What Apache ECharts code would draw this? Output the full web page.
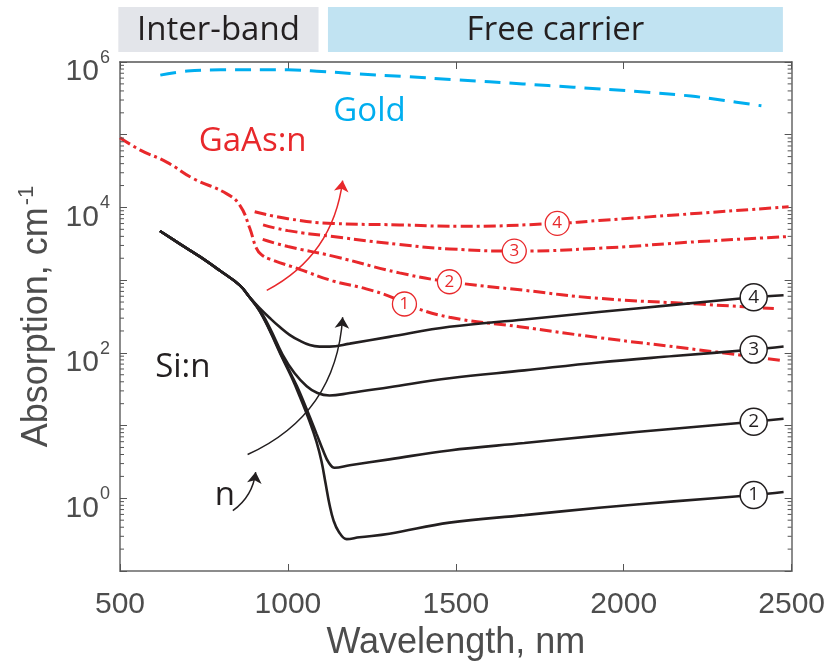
<!DOCTYPE html>
<html>
<head>
<meta charset="utf-8">
<script src="https://cdn.jsdelivr.net/npm/echarts@6/dist/echarts.min.js"></script>
<style>
  html, body { margin: 0; padding: 0; background: #fff; }
  #chart { width: 828px; height: 666px; }
</style>
</head>
<body>
<div id="chart"></div>
<script>
// Wavelength (nm) and absorption coefficient (cm^-1) for each curve

// Gold film
const goldX = [620, 700, 800, 1000, 1100, 1200, 1350, 1500, 1700, 1850, 2050, 2200, 2300, 2410];
const goldY = [6.6e5, 7.5e5, 7.8e5, 7.8e5, 7.4e5, 6.9e5, 6.3e5, 5.7e5, 5.0e5, 4.5e5, 3.9e5, 3.4e5, 2.95e5, 2.5e5];

// n-doped GaAs, doping levels 1..4 (level 1 carries the inter-band edge)
const gaas1X = [500, 559, 639, 718, 817, 857, 886, 906, 921, 946, 1035, 1133, 1233, 1312, 1347, 1481, 1689, 1926, 2224, 2476];
const gaas1Y = [9.1e4, 6.2e4, 4.2e4, 2.5e4, 1.55e4, 1.07e4, 5250, 2750, 2240, 1950, 1410, 977, 759, 575, 470, 309, 229, 162, 110, 78];
const gaas2X = [925, 1000, 1134, 1332, 1481, 1704, 1926, 2224, 2447];
const gaas2Y = [3630, 2900, 2140, 1260, 950, 724, 562, 468, 407];
const gaas3X = [926, 1000, 1134, 1332, 1481, 1674, 1926, 2224, 2491];
const gaas3Y = [5750, 4800, 3980, 3090, 2690, 2510, 2750, 3390, 3980];
const gaas4X = [901, 1000, 1134, 1332, 1510, 1802, 1926, 2224, 2491];
const gaas4Y = [8710, 7000, 6030, 5750, 5500, 6030, 6610, 8320, 10200];

// n-doped Si, doping levels 1..4
const si1X = [619, 678, 738, 797, 857, 886, 916, 946, 984, 1011, 1035, 1065, 1085, 1100, 1112, 1124, 1136, 1151, 1175, 1213, 1302, 1481, 1704, 1926, 2149, 2387, 2476];
const si1Y = [4740, 3155, 2101, 1355, 848, 582, 376, 201, 83.6, 46.1, 25.4, 11.3, 6.03, 3.23, 1.62, 0.814, 0.493, 0.350, 0.274, 0.291, 0.325, 0.463, 0.586, 0.741, 0.908, 1.11, 1.22];
const si2X = [619, 678, 738, 797, 857, 886, 916, 946, 984, 1011, 1035, 1065, 1085, 1106, 1121, 1139, 1184, 1302, 1481, 1704, 1926, 2149, 2387, 2476];
const si2Y = [4740, 3155, 2101, 1355, 848, 582, 376, 207, 86.3, 49.1, 28.8, 13.2, 7.75, 4.41, 3.13, 2.63, 2.85, 3.43, 4.55, 5.75, 7.28, 9.06, 11.3, 12.4];
const si3X = [619, 678, 738, 797, 857, 886, 916, 946, 984, 1020, 1056, 1088, 1124, 1184, 1302, 1481, 1704, 1926, 2149, 2387, 2476];
const si3Y = [4740, 3155, 2101, 1355, 848, 582, 388, 221, 94.8, 52.3, 34.8, 28.0, 25.9, 28.0, 33.7, 44.7, 57.4, 73.8, 90.4, 111, 122];
const si4X = [619, 678, 738, 797, 857, 886, 916, 946, 975, 1005, 1035, 1065, 1094, 1124, 1184, 1302, 1481, 1704, 1926, 2149, 2387, 2476];
const si4Y = [4740, 3155, 2101, 1355, 848, 582, 413, 302, 228, 177, 147, 128, 122, 122, 134, 166, 228, 288, 364, 457, 582, 620];

// Where each numbered marker sits along its curve
const gaasMarkX = [1347, 1481, 1674, 1802];
const siMarkX = [2387, 2387, 2387, 2387];

// Spectral regions shown above the plot
const bandNames = ['Inter-band', 'Free carrier'];
const bandStart = [495, 1118];
const bandEnd = [1090, 2470];
const bandColors = ['#e3e5ea', '#c1e3f2'];

// Text notes (wavelength, absorption)
const noteNames = ['Gold', 'GaAs:n', 'Si:n', 'n'];
const noteX = [1243, 895, 687, 812];
const noteY = [2.09e5, 8.1e4, 62, 1.1];

// Arrows for increasing doping
const arrowFrom = [[937, 724], [880, 4.0], [836, 0.676]];
const arrowTo = [[1163, 23400], [1163, 309], [904, 2.29]];
const arrowBend = [-0.26, -0.3, -0.22];

// Axis ticks
const xTicks = [500, 1000, 1500, 2000, 2500];
const yDecades = [0.1, 1, 10, 100, 1e3, 1e4, 1e5];
const yMinorSteps = [2, 3, 4, 5, 6, 7, 8, 9];

const BLACK = '#231f20';
const RED = '#e8282b';
const CYAN = '#00aeef';
const AXIS_GREY = '#4d4d4d';
const AXIS_FONT = '"Liberation Sans", Arial, sans-serif';
const NOTE_FONT = '"Open Sans", "Noto Sans", sans-serif';

function pairs(xs, ys) { return xs.map((x, i) => [x, ys[i]]); }
function at(xs, ys, x) { return [x, ys[xs.indexOf(x)]]; }

function curve(xs, ys, color, type, width, smooth) {
  return {
    type: 'line', xAxisIndex: 0, yAxisIndex: 0,
    data: pairs(xs, ys),
    showSymbol: false, symbol: 'none',
    smooth: smooth,
    lineStyle: { color: color, width: width, type: type, cap: 'butt', opacity: 1 },
    silent: true, z: 3
  };
}

const minorTickValues = [];
yDecades.forEach(d => yMinorSteps.forEach(m => minorTickValues.push(+(d * m).toPrecision(3))));

const gaasSets = [[gaas1X, gaas1Y], [gaas2X, gaas2Y], [gaas3X, gaas3Y], [gaas4X, gaas4Y]];
const siSets = [[si1X, si1Y], [si2X, si2Y], [si3X, si3Y], [si4X, si4Y]];
const gaasMarks = gaasSets.map((s, i) => ({ name: String(i + 1), value: at(s[0], s[1], gaasMarkX[i]) }));
const siMarks = siSets.map((s, i) => ({ name: String(i + 1), value: at(s[0], s[1], siMarkX[i]) }));

const noteColors = [CYAN, RED, BLACK, BLACK];
const arrowColors = [RED, BLACK, BLACK];

const chart = echarts.init(document.getElementById('chart'), null, { renderer: 'canvas' });

const option = {
  animation: false,
  backgroundColor: '#fff',
  grid: [
    { left: 120, right: 35, top: 62, bottom: 89 },
    { left: 120, right: 35, top: 7, height: 45 }
  ],
  xAxis: [
    {
      gridIndex: 0, type: 'value', min: xTicks[0], max: xTicks[xTicks.length - 1], interval: 500,
      position: 'bottom',
      axisLine: { onZero: false, lineStyle: { color: '#8c8c8c', width: 2 } },
      axisTick: { inside: true, length: 7, lineStyle: { color: '#555', width: 1 } },
      axisLabel: { fontFamily: AXIS_FONT, fontSize: 30, color: AXIS_GREY, margin: 19, formatter: v => String(v) },
      splitLine: { show: false },
      name: 'Wavelength, nm', nameLocation: 'middle', nameGap: 54,
      nameTextStyle: { fontFamily: AXIS_FONT, fontSize: 36, color: AXIS_GREY }
    },
    {
      gridIndex: 0, type: 'value', min: xTicks[0], max: xTicks[xTicks.length - 1], interval: 500,
      position: 'top',
      axisLine: { onZero: false, lineStyle: { color: '#555', width: 1.5 } },
      axisTick: { inside: true, length: 7, lineStyle: { color: '#555', width: 1 } },
      axisLabel: { show: false },
      splitLine: { show: false }
    },
    { gridIndex: 1, type: 'value', min: xTicks[0], max: xTicks[xTicks.length - 1], show: false }
  ],
  yAxis: [
    {
      gridIndex: 0, type: 'log', logBase: 10, min: 0.1, max: 1e6, splitNumber: 7,
      position: 'left',
      axisLine: { show: true, lineStyle: { color: '#8c8c8c', width: 2 } },
      axisTick: { show: true, inside: true, length: 7, lineStyle: { color: '#555', width: 1 } },
      axisLabel: {
        margin: 10,
        padding: [12, 0, 0, 0],
        formatter: function (v) {
          const e = Math.round(Math.log10(v));
          return (e >= 0 && e % 2 === 0) ? '{b|10}{s|' + e + '}' : '';
        },
        rich: {
          b: { fontFamily: AXIS_FONT, fontSize: 30, color: AXIS_GREY, verticalAlign: 'bottom' },
          s: { fontFamily: AXIS_FONT, fontSize: 18, color: AXIS_GREY, verticalAlign: 'bottom', padding: [0, 0, 20, 1] }
        }
      },
      splitLine: { show: false },
      name: 'Absorption, cm{s|-1}', nameLocation: 'middle', nameGap: 58, nameRotate: 90,
      nameTextStyle: {
        fontFamily: AXIS_FONT, fontSize: 36, color: AXIS_GREY, verticalAlign: 'bottom',
        rich: {
          s: { fontFamily: AXIS_FONT, fontSize: 22, color: AXIS_GREY, verticalAlign: 'bottom', padding: [0, 0, 20, 2] }
        }
      }
    },
    {
      gridIndex: 0, type: 'log', logBase: 10, min: 0.1, max: 1e6, splitNumber: 7,
      position: 'right',
      axisLine: { show: true, lineStyle: { color: '#8c8c8c', width: 2 } },
      axisTick: { show: true, inside: true, length: 7, lineStyle: { color: '#555', width: 1 } },
      axisLabel: { show: false },
      splitLine: { show: false }
    },
    { gridIndex: 1, type: 'value', min: 0, max: 1, show: false }
  ],
  series: [
    // spectral region boxes
    {
      type: 'custom', xAxisIndex: 2, yAxisIndex: 2, silent: true,
      encode: { x: [0, 1] },
      data: bandNames.map((n, i) => [bandStart[i], bandEnd[i]]),
      renderItem: function (params, api) {
        const i = params.dataIndex;
        const p0 = api.coord([api.value(0), 1]);
        const p1 = api.coord([api.value(1), 0]);
        return {
          type: 'group',
          children: [
            { type: 'rect', shape: { x: p0[0], y: p0[1], width: p1[0] - p0[0], height: p1[1] - p0[1] }, style: { fill: bandColors[i] } },
            { type: 'text', x: (p0[0] + p1[0]) / 2, y: (p0[1] + p1[1]) / 2 + 1,
              style: { text: bandNames[i], fontFamily: NOTE_FONT, fontSize: 33, fill: BLACK, align: 'center', verticalAlign: 'middle' } }
          ]
        };
      }
    },
    // minor log ticks on the left and right frame
    {
      type: 'custom', xAxisIndex: 0, yAxisIndex: 0, silent: true, z: 5,
      data: minorTickValues.map(v => [xTicks[0], v]),
      renderItem: function (params, api) {
        const y = api.coord([xTicks[0], api.value(1)])[1];
        const cs = params.coordSys;
        return {
          type: 'group',
          children: [
            { type: 'line', shape: { x1: cs.x, y1: y, x2: cs.x + 4, y2: y }, style: { stroke: '#555', lineWidth: 1 } },
            { type: 'line', shape: { x1: cs.x + cs.width, y1: y, x2: cs.x + cs.width - 4, y2: y }, style: { stroke: '#555', lineWidth: 1 } }
          ]
        };
      }
    },
    curve(goldX, goldY, CYAN, [16, 9], 3, 0.4),
    curve(gaas1X, gaas1Y, RED, [12, 4, 3, 4], 3, 0.45),
    curve(gaas2X, gaas2Y, RED, [12, 4, 3, 4], 3, 0.5),
    curve(gaas3X, gaas3Y, RED, [12, 4, 3, 4], 3, 0.5),
    curve(gaas4X, gaas4Y, RED, [12, 4, 3, 4], 3, 0.5),
    curve(si1X, si1Y, BLACK, 'solid', 2.6, 0.4),
    curve(si2X, si2Y, BLACK, 'solid', 2.6, 0.4),
    curve(si3X, si3Y, BLACK, 'solid', 2.6, 0.4),
    curve(si4X, si4Y, BLACK, 'solid', 2.6, 0.4),
    // doping arrows
    {
      type: 'lines', coordinateSystem: 'cartesian2d', xAxisIndex: 0, yAxisIndex: 0, silent: true, z: 6,
      symbol: ['none', 'arrow'], symbolSize: 11,
      lineStyle: { width: 1.5, opacity: 1 },
      data: arrowFrom.map((p, i) => ({
        coords: [p, arrowTo[i]],
        lineStyle: { color: arrowColors[i], width: 1.5, opacity: 1, curveness: arrowBend[i] }
      }))
    },
    // numbered markers
    {
      type: 'scatter', xAxisIndex: 0, yAxisIndex: 0, silent: true, z: 10,
      data: gaasMarks, symbol: 'circle', symbolSize: 24,
      itemStyle: { color: '#fff', borderColor: RED, borderWidth: 1.3, opacity: 1 },
      label: { show: true, position: 'inside', formatter: '{b}', color: RED, fontFamily: NOTE_FONT, fontSize: 17 }
    },
    {
      type: 'scatter', xAxisIndex: 0, yAxisIndex: 0, silent: true, z: 10,
      data: siMarks, symbol: 'circle', symbolSize: 27,
      itemStyle: { color: '#fff', borderColor: BLACK, borderWidth: 1.5, opacity: 1 },
      label: { show: true, position: 'inside', formatter: '{b}', color: BLACK, fontFamily: NOTE_FONT, fontSize: 19 }
    },
    // text notes
    {
      type: 'scatter', xAxisIndex: 0, yAxisIndex: 0, silent: true, z: 9,
      symbolSize: 0,
      itemStyle: { opacity: 1 },
      data: noteNames.map((n, i) => ({ name: n, value: [noteX[i], noteY[i]], label: { color: noteColors[i] } })),
      label: { show: true, position: 'inside', formatter: '{b}', fontFamily: NOTE_FONT, fontSize: 33 }
    }
  ]
};

chart.setOption(option);
</script>
</body>
</html>
